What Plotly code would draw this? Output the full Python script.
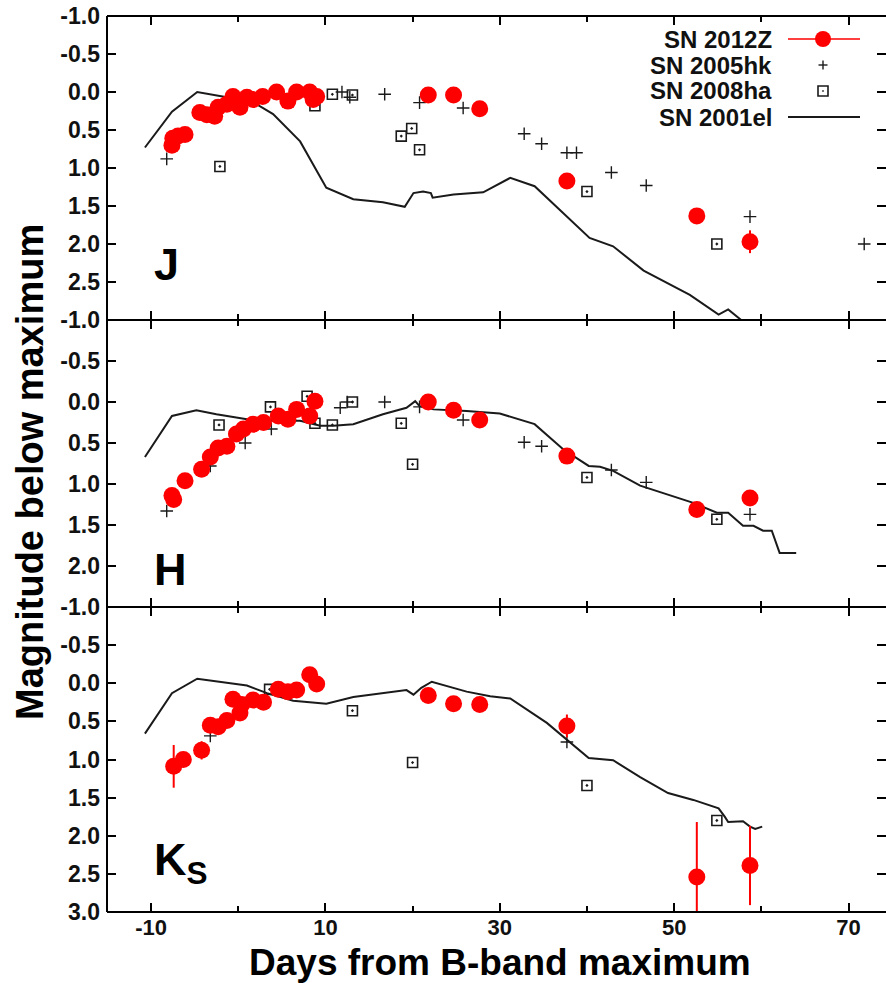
import plotly.graph_objects as go

# ---------------- data: days from B-band maximum and magnitude below maximum ----------------
# J band
j_12z_day = [-7.6, -7.5, -6.9, -6.1, -4.4, -3.6, -2.7, -2.3, -1.3, -0.6, 0.2, 1.0, 1.7, 2.8,
             4.4, 5.7, 6.7, 8.2, 8.6, 9.0, 21.8, 24.7, 27.7, 37.7, 52.6, 58.7]
j_12z_mag = [0.70, 0.61, 0.58, 0.56, 0.27, 0.30, 0.32, 0.20, 0.16, 0.06, 0.20, 0.07, 0.10, 0.06,
             0.00, 0.12, 0.00, 0.00, 0.10, 0.06, 0.04, 0.04, 0.22, 1.17, 1.63, 1.97]
j_12z_err = [0.0] * 23 + [0.03, 0.03, 0.15]

j_05hk_day = [-8.2, 11.9, 12.8, 16.8, 20.8, 25.8, 32.8, 34.8, 37.7, 38.8, 42.8, 46.8, 58.7, 71.8]
j_05hk_mag = [0.88, 0.00, 0.07, 0.03, 0.14, 0.21, 0.55, 0.68, 0.80, 0.80, 1.06, 1.23, 1.64, 2.00]

j_08ha_day = [-2.1, 8.8, 10.8, 13.1, 18.7, 19.9, 20.8, 40.0, 54.9]
j_08ha_mag = [0.98, 0.18, 0.03, 0.04, 0.58, 0.48, 0.76, 1.31, 2.00]

j_01el_day = [-10.7, -7.6, -4.7, -3.2, -1.3, 2.1, 4.0, 7.1, 10.1, 13.2, 16.6, 19.1, 20.1, 21.2,
              22.1, 22.3, 24.7, 28.1, 31.2, 34.0, 40.3, 43.0, 46.5, 51.8, 55.1, 56.2, 57.9]
j_01el_mag = [0.73, 0.26, 0.00, 0.03, 0.07, 0.16, 0.29, 0.65, 1.26, 1.41, 1.45, 1.51, 1.33, 1.31,
              1.33, 1.39, 1.35, 1.32, 1.13, 1.24, 1.92, 2.03, 2.35, 2.67, 2.93, 2.86, 3.02]

# H band
h_12z_day = [-7.6, -7.4, -6.1, -4.2, -3.2, -2.3, -1.3, -0.2, 0.6, 1.7, 2.9, 4.6, 5.7, 6.7,
             8.2, 8.8, 21.8, 24.7, 27.7, 37.7, 52.6, 58.7]
h_12z_mag = [1.14, 1.19, 0.96, 0.82, 0.67, 0.56, 0.54, 0.39, 0.33, 0.27, 0.25, 0.17, 0.21, 0.09,
             0.17, -0.01, 0.00, 0.10, 0.22, 0.66, 1.31, 1.17]
h_12z_err = [0.0] * 22

h_05hk_day = [-8.2, -3.2, 0.8, 3.8, 11.7, 12.5, 16.8, 20.8, 25.8, 32.8, 34.8, 42.8, 46.8, 58.7]
h_05hk_mag = [1.33, 0.78, 0.50, 0.33, 0.07, 0.00, 0.00, 0.06, 0.22, 0.49, 0.54, 0.83, 0.98, 1.37]

h_08ha_day = [-2.2, 3.7, 7.9, 8.8, 10.8, 13.1, 18.7, 20.0, 40.0, 54.9]
h_08ha_mag = [0.28, 0.06, -0.07, 0.26, 0.28, 0.00, 0.26, 0.76, 0.92, 1.43]

h_01el_day = [-10.7, -7.6, -4.8, -2.5, 1.0, 4.0, 7.1, 9.4, 10.9, 13.2, 16.6, 19.3, 20.3, 20.8,
              22.4, 26.2, 30.0, 34.0, 37.3, 40.2, 41.5, 43.0, 46.1, 52.2, 54.9, 56.2, 57.9,
              59.1, 60.2, 61.2, 62.1, 64.0]
h_01el_mag = [0.67, 0.17, 0.10, 0.15, 0.21, 0.23, 0.23, 0.29, 0.29, 0.27, 0.15, 0.07, -0.01, 0.05,
              0.09, 0.11, 0.14, 0.27, 0.58, 0.78, 0.79, 0.84, 1.02, 1.23, 1.35, 1.35, 1.51,
              1.51, 1.57, 1.57, 1.84, 1.84]

# Ks band
k_12z_day = [-7.4, -6.3, -4.2, -3.2, -2.3, -1.3, -0.6, 0.2, 0.4, 1.7, 2.9, 4.6, 5.7, 6.7,
             8.2, 9.0, 21.8, 24.7, 27.7, 37.7, 52.6, 58.7]
k_12z_mag = [1.09, 1.00, 0.88, 0.55, 0.57, 0.49, 0.21, 0.39, 0.28, 0.22, 0.25, 0.08, 0.11, 0.09,
             -0.11, 0.01, 0.16, 0.27, 0.28, 0.56, 2.54, 2.39]
k_12z_err = [0.28, 0.05, 0.12, 0.0, 0.0, 0.0, 0.0, 0.0, 0.0, 0.0, 0.0, 0.0, 0.0, 0.0,
             0.0, 0.0, 0.0, 0.0, 0.0, 0.15, 0.72, 0.52]

k_05hk_day = [-3.2, 37.7]
k_05hk_mag = [0.69, 0.77]

k_08ha_day = [3.6, 13.1, 20.0, 40.0, 54.9]
k_08ha_mag = [0.08, 0.36, 1.04, 1.34, 1.80]

k_01el_day = [-10.7, -7.6, -4.7, 1.0, 3.3, 6.3, 10.1, 13.2, 19.3, 20.1, 21.0, 22.2, 26.2, 28.9,
              31.2, 35.4, 40.2, 43.0, 46.1, 49.3, 52.2, 55.1, 55.8, 56.2, 57.9, 58.7, 59.3, 60.1]
k_01el_mag = [0.66, 0.13, -0.06, 0.03, 0.13, 0.23, 0.27, 0.18, 0.09, 0.15, 0.06, -0.02, 0.11, 0.17,
              0.20, 0.52, 0.98, 1.01, 1.23, 1.44, 1.53, 1.64, 1.75, 1.82, 1.81, 1.88, 1.91, 1.88]

# axis ticks
x_tick_vals = [-10, 10, 30, 50, 70]
y_tick_top = [-1.0, -0.5, 0.0, 0.5, 1.0, 1.5, 2.0, 2.5]
y_tick_mid = [-1.0, -0.5, 0.0, 0.5, 1.0, 1.5, 2.0]
y_tick_bot = [-1.0, -0.5, 0.0, 0.5, 1.0, 1.5, 2.0, 2.5, 3.0]

legend_names = ["SN 2012Z", "SN 2005hk", "SN 2008ha", "SN 2001el"]
band_labels = ["J", "H", "K<sub>S</sub>"]

# ---------------- figure layout geometry ----------------
W, H = 886, 983
ML, MR, MT, MB = 107, 0, 16, 71
PW, PH = W - ML - MR, H - MT - MB


def paper_x(px):
    return (px - ML) / PW


def paper_y(py):
    return (H - MB - py) / PH


# panel boundaries (pixel rows): top 16-320, middle 320-607, bottom 607-912
dom_top = [paper_y(320), 1.0]
dom_mid = [paper_y(607), paper_y(320)]
dom_bot = [0.0, paper_y(607)]

FONT = "Liberation Sans"
RED = "#ff0000"
BLACK = "#1a1a1a"

panels = [
    dict(x12=j_12z_day, y12=j_12z_mag, e12=j_12z_err, x05=j_05hk_day, y05=j_05hk_mag,
         x08=j_08ha_day, y08=j_08ha_mag, x01=j_01el_day, y01=j_01el_mag,
         rng=[3.0, -1.0], dom=dom_top, ticks=y_tick_top),
    dict(x12=h_12z_day, y12=h_12z_mag, e12=h_12z_err, x05=h_05hk_day, y05=h_05hk_mag,
         x08=h_08ha_day, y08=h_08ha_mag, x01=h_01el_day, y01=h_01el_mag,
         rng=[2.5, -1.0], dom=dom_mid, ticks=y_tick_mid),
    dict(x12=k_12z_day, y12=k_12z_mag, e12=k_12z_err, x05=k_05hk_day, y05=k_05hk_mag,
         x08=k_08ha_day, y08=k_08ha_mag, x01=k_01el_day, y01=k_01el_mag,
         rng=[3.0, -1.0], dom=dom_bot, ticks=y_tick_bot),
]

fig = go.Figure()
layout = {}
for i, p in enumerate(panels):
    n = i + 1
    xa = "x" if n == 1 else f"x{n}"
    ya = "y" if n == 1 else f"y{n}"
    fig.add_trace(go.Scatter(x=p["x01"], y=p["y01"], mode="lines", xaxis=xa, yaxis=ya,
                             line=dict(color=BLACK, width=2), showlegend=False))
    fig.add_trace(go.Scatter(x=p["x08"], y=p["y08"], mode="markers", xaxis=xa, yaxis=ya,
                             marker=dict(symbol="square-open-dot", size=10, color=BLACK,
                                         line=dict(width=1.6, color=BLACK)),
                             showlegend=False))
    fig.add_trace(go.Scatter(x=p["x05"], y=p["y05"], mode="markers", xaxis=xa, yaxis=ya,
                             marker=dict(symbol="cross-thin-open", size=9, color=BLACK,
                                         line=dict(width=1.4, color=BLACK)),
                             showlegend=False))
    fig.add_trace(go.Scatter(x=p["x12"], y=p["y12"], mode="markers", xaxis=xa, yaxis=ya,
                             marker=dict(symbol="circle", size=17, color=RED),
                             error_y=dict(type="data", array=p["e12"], color=RED,
                                          thickness=2, width=0),
                             showlegend=False))

    is_bottom = (n == 3)
    layout["xaxis" if n == 1 else f"xaxis{n}"] = dict(
        domain=[0, 1], anchor=ya, range=[-15.05, 74.3],
        tickmode="array", tickvals=x_tick_vals, ticktext=[str(v) for v in x_tick_vals],
        showticklabels=is_bottom, ticks="inside", ticklen=9, tickwidth=1.5, tickcolor="black",
        minor=dict(tickmode="array", tickvals=[0, 20, 40, 60], ticks="inside",
                   ticklen=6, tickwidth=1.5, tickcolor="black"),
        showline=False, mirror="ticks",
        showgrid=False, zeroline=False,
        tickfont=dict(family=FONT, size=22, color="#111", weight="bold"),
    )
    layout["yaxis" if n == 1 else f"yaxis{n}"] = dict(
        domain=p["dom"], anchor=xa, range=p["rng"],
        tickmode="array", tickvals=p["ticks"], ticktext=[f"{v:.1f}" for v in p["ticks"]],
        ticks="inside", ticklen=9, tickwidth=1.5, tickcolor="black",
        minor=dict(tickmode="array", tickvals=[v / 2 for v in range(-2, 7)], ticks="inside",
                   ticklen=9, tickwidth=1.5, tickcolor="black"),
        showline=False, mirror="ticks",
        showgrid=False, zeroline=False, ticklabelstandoff=6,
        tickfont=dict(family=FONT, size=23, color="#111", weight="bold"),
    )

annotations = []
# band labels inside each panel
for lab, py in zip(band_labels, [264, 569, 862]):
    annotations.append(dict(xref="paper", yref="paper", x=paper_x(152), y=paper_y(py),
                            xanchor="left", yanchor="middle", showarrow=False, text=lab,
                            font=dict(family=FONT, size=45, color="black", weight="bold")))

# axis titles
annotations.append(dict(xref="paper", yref="paper", x=paper_x(500), y=paper_y(962),
                        xanchor="center", yanchor="middle", showarrow=False,
                        text="Days from B-band maximum",
                        font=dict(family=FONT, size=37, color="black", weight="bold")))
annotations.append(dict(xref="paper", yref="paper", x=paper_x(30), y=paper_y(472),
                        xanchor="center", yanchor="middle", showarrow=False, textangle=-90,
                        text="Magnitude below maximum",
                        font=dict(family=FONT, size=38, color="black", weight="bold")))

# legend: right-aligned names with symbol samples to their right
leg_rows = [39, 65, 91, 117]
for name, py in zip(legend_names, leg_rows):
    annotations.append(dict(xref="paper", yref="paper", x=paper_x(774), y=paper_y(py),
                            xanchor="right", yanchor="middle", showarrow=False, text=name,
                            font=dict(family=FONT, size=24, color="#111", weight="bold")))

shapes = []
# frame: left spine, top spine, panel separators and bottom spine (right side lies off-canvas)
shapes.append(dict(type="line", xref="paper", yref="paper", x0=0, x1=0, y0=0, y1=1,
                   line=dict(color="black", width=2)))
for yb in [0.0, dom_bot[1], dom_mid[1], 1.0]:
    shapes.append(dict(type="line", xref="paper", yref="paper", x0=0, x1=1, y0=yb, y1=yb,
                       line=dict(color="black", width=2)))

sx0, sx1, sxc = paper_x(788), paper_x(860), 823
# SN 2012Z sample: red line with filled circle
shapes.append(dict(type="line", xref="paper", yref="paper", x0=sx0, x1=sx1,
                   y0=paper_y(leg_rows[0]), y1=paper_y(leg_rows[0]),
                   line=dict(color=RED, width=1.5)))
shapes.append(dict(type="circle", xref="paper", yref="paper",
                   x0=paper_x(sxc - 8), x1=paper_x(sxc + 8),
                   y0=paper_y(leg_rows[0] + 8), y1=paper_y(leg_rows[0] - 8),
                   fillcolor=RED, line=dict(color=RED, width=0)))
# SN 2005hk sample: plus
for dx0, dy0, dx1, dy1 in [(-4.5, 0, 4.5, 0), (0, -4.5, 0, 4.5)]:
    shapes.append(dict(type="line", xref="paper", yref="paper",
                       x0=paper_x(sxc + dx0), x1=paper_x(sxc + dx1),
                       y0=paper_y(leg_rows[1] + dy0), y1=paper_y(leg_rows[1] + dy1),
                       line=dict(color=BLACK, width=1.4)))
# SN 2008ha sample: open square with a centre dot
shapes.append(dict(type="rect", xref="paper", yref="paper",
                   x0=paper_x(sxc - 5), x1=paper_x(sxc + 5),
                   y0=paper_y(leg_rows[2] + 5), y1=paper_y(leg_rows[2] - 5),
                   line=dict(color=BLACK, width=1.6)))
shapes.append(dict(type="rect", xref="paper", yref="paper",
                   x0=paper_x(sxc - 0.8), x1=paper_x(sxc + 0.8),
                   y0=paper_y(leg_rows[2] + 0.8), y1=paper_y(leg_rows[2] - 0.8),
                   fillcolor=BLACK, line=dict(width=0)))
# SN 2001el sample: black line
shapes.append(dict(type="line", xref="paper", yref="paper", x0=sx0, x1=sx1,
                   y0=paper_y(leg_rows[3]), y1=paper_y(leg_rows[3]),
                   line=dict(color=BLACK, width=2)))

fig.update_layout(
    width=W, height=H,
    margin=dict(l=ML, r=MR, t=MT, b=MB, pad=0),
    paper_bgcolor="white", plot_bgcolor="white",
    showlegend=False,
    annotations=annotations,
    shapes=shapes,
    **layout,
)

fig.write_html("out.html")
